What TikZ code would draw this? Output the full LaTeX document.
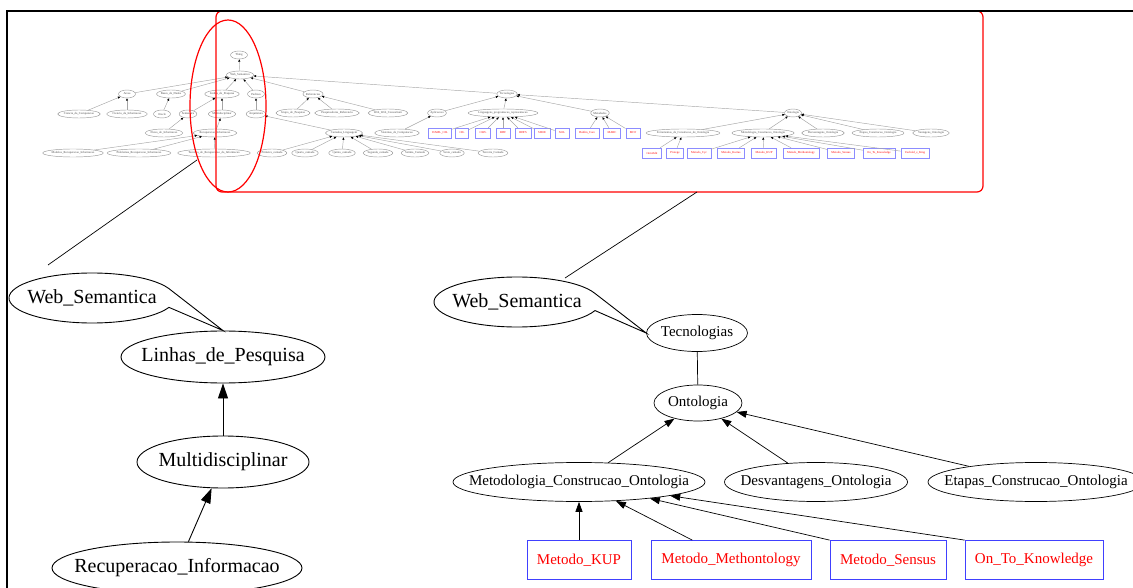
\documentclass[tikz,border=0pt]{standalone}
\usepackage{fontspec}
\setmainfont{Liberation Serif}
\usepackage{xcolor}
\usetikzlibrary{shapes,arrows.meta,positioning,calc}

\tikzset{
    mini/.style={ellipse, draw=black!40, text=black!70, font=\fontsize{3}{3.6}\selectfont, inner sep=0pt, minimum width=17pt, minimum height=8pt, line width=0.45pt},
    minibox/.style={rectangle, draw=blue!45, text=red, font=\fontsize{3}{3.6}\selectfont, inner xsep=4pt, inner ysep=0pt, minimum height=10pt, line width=0.45pt},
    minilink/.style={draw=black!35, line width=0.45pt, -{Triangle[length=2.5pt,width=2pt,color=black]}},
    big/.style={ellipse, draw, line width=0.9pt, inner sep=0pt, font=\fontsize{20}{24}\selectfont},
    mid/.style={ellipse, draw, line width=0.7pt, inner sep=0pt, font=\fontsize{15}{18}\selectfont},
    metbox/.style={rectangle, draw=blue!75, text=red, line width=0.8pt, inner sep=0pt, minimum height=39pt, font=\fontsize{15}{18}\selectfont},
    bigarrow/.style={line width=0.9pt, -{Triangle[length=15pt,width=10pt]}},
    midarrow/.style={line width=0.7pt, -{Triangle[length=10pt,width=7pt]}},
}
\newcommand{\zb}[1]{\makebox[0pt]{#1}}

\begin{document}
\begin{tikzpicture}[x=1pt, y=-1pt]
    \useasboundingbox (0,0) rectangle (1133,588);

    % Miniature of the whole ontology
    \node[mini] (th) at (239,55) {Thing};
    \node[mini] (wsm) at (240,75) {Web\_Semantica};
    \node[mini] (ar) at (127,94) {Areas};
    \node[mini] (bd) at (171,94) {Bases\_de\_Dados};
    \node[mini] (lpm) at (222,94) {Linhas\_de\_Pesquisa};
    \node[mini] (pd) at (256,94) {Padroes};
    \node[mini] (rf) at (313,94) {Referencias};
    \node[mini] (tc) at (507,94) {Tecnologias};

    \node[mini] (cc) at (79,114) {Ciencia\_da\_Computacao};
    \node[mini] (ci) at (127,114) {Ciencia\_da\_Informacao};
    \node[mini] (orc) at (162,114) {Oracle};
    \node[mini] (sm) at (188,114) {Semantica};
    \node[mini] (mdm) at (222,114) {Multidisciplinar};
    \node[mini] (aq) at (256,114) {Arquitetura};
    \node[mini] (gp) at (293,113) {Grupo\_de\_Pesquisa};
    \node[mini] (pq) at (337,113) {Pesquisadores\_Referencia};
    \node[mini] (w3) at (388,113) {Web\_Web\_Consortium};
    \node[mini] (ag) at (437,113) {Aplicacoes};
    \node[mini] (lg) at (503,113) {Linguagens\_programacao\_representacao};
    \node[mini] (mt) at (600,113) {Metadados};
    \node[mini] (om) at (793,113) {Ontologia};

    \node[mini] (fl) at (164,133) {Fluxo\_de\_Informacao};
    \node[mini] (rim) at (215,133) {Recuperacao\_Informacao};
    \node[mini] (cm) at (344,133) {Camadas\_Linguagem};
    \node[mini] (sc) at (397,133) {Sistemas\_de\_Computacao};
    \node[minibox] (b1) at (440,133) {DAML\_OIL};
    \node[minibox] (b2) at (462,133) {OIL};
    \node[minibox] (b3) at (483,133) {OWL};
    \node[minibox] (b4) at (503,133) {RDF};
    \node[minibox] (b5) at (523,133) {RDFS};
    \node[minibox] (b6) at (542,133) {SHOE};
    \node[minibox] (b7) at (562,133) {XOL};
    \node[minibox] (d1) at (587,133) {Dublin\_Core};
    \node[minibox] (d2) at (612,133) {MARC};
    \node[minibox] (d3) at (633,133) {MCF};
    \node[mini] (fe) at (683,133) {Ferramentas\_de\_Construcao\_de\_Ontologia};
    \node[mini] (mco) at (763,133) {Metodologia\_Construcao\_Ontologia};
    \node[mini] (dvo) at (823,133) {Desvantagens\_Ontologia};
    \node[mini] (eco) at (878,133) {Etapas\_Construcao\_Ontologia};
    \node[mini] (vo) at (931,133) {Vantagens\_Ontologia};

    \node[mini] (mr) at (73,153) {Modelos\_Recuperacao\_Informacao};
    \node[mini] (pr) at (139,153) {Problemas\_Recuperacao\_Informacao};
    \node[mini] (tr) at (214,153) {Tecnicas\_de\_Recuperacao\_da\_Informacao};
    \node[mini] (c1) at (272,153) {Primeira\_camada};
    \node[mini] (c2) at (305,153) {Quarta\_camada};
    \node[mini] (c3) at (342,153) {Quinta\_camada};
    \node[mini] (c4) at (378,153) {Segunda\_camada};
    \node[mini] (c5) at (415,153) {Setima\_Camada};
    \node[mini] (c6) at (452,153) {Sexta\_camada};
    \node[mini] (c7) at (493,153) {Terceira\_Camada};
    \node[minibox] (f1) at (652,153) {OntoEdit};
    \node[minibox] (f2) at (675,153) {Protege};
    \node[minibox] (m1) at (699,153) {Metodo\_Cyc};
    \node[minibox] (m2) at (731,153) {Metodo\_Kactus};
    \node[minibox] (m3) at (764,153) {Metodo\_KUP};
    \node[minibox] (m4) at (801,153) {Metodo\_Methontology};
    \node[minibox] (m5) at (841,153) {Metodo\_Sensus};
    \node[minibox] (m6) at (879,153) {On\_To\_Knowledge};
    \node[minibox] (m7) at (915,153) {Uschold\_e\_King};

    \path[minilink] (wsm) edge (th)
        (ar) edge (wsm) (bd) edge (wsm) (lpm) edge (wsm) (pd) edge (wsm) (rf) edge (wsm) (tc) edge (wsm)
        (cc) edge (ar) (ci) edge (ar) (orc) edge (bd) (sm) edge (lpm) (mdm) edge (lpm) (aq) edge (pd)
        (gp) edge (rf) (pq) edge (rf) (w3) edge (rf)
        (ag) edge (tc) (lg) edge (tc) (mt) edge (tc) (om) edge (tc)
        (fl) edge (sm) (rim) edge (mdm) (cm) edge (aq) (sc) edge (ag)
        (b1) edge (lg) (b2) edge (lg) (b3) edge (lg) (b4) edge (lg) (b5) edge (lg) (b6) edge (lg) (b7) edge (lg)
        (d1) edge (mt) (d2) edge (mt) (d3) edge (mt)
        (fe) edge (om) (mco) edge (om) (dvo) edge (om) (eco) edge (om) (vo) edge (om)
        (mr) edge (rim) (pr) edge (rim) (tr) edge (rim)
        (c1) edge (cm) (c2) edge (cm) (c3) edge (cm) (c4) edge (cm) (c5) edge (cm) (c6) edge (cm) (c7) edge (cm)
        (f1) edge (fe) (f2) edge (fe)
        (m1) edge (mco) (m2) edge (mco) (m3) edge (mco) (m4) edge (mco) (m5) edge (mco) (m6) edge (mco) (m7) edge (mco);

    % Marks on the miniature
    \draw[red, line width=1.2pt, rounded corners=6pt] (216,11) rectangle (983,192);
    \draw[red, line width=1.2pt] (228,106) ellipse (38pt and 86pt);

    % Left zoom
    \node[big, minimum width=204pt, minimum height=52pt] (lp) at (223,357) {\zb{Linhas\_de\_Pesquisa}};
    \node[big, minimum width=172pt, minimum height=52pt] (mu) at (223,462) {\zb{Multidisciplinar}};
    \node[big, minimum width=250pt, minimum height=52pt] (ri) at (177,568) {\zb{Recuperacao\_Informacao}};
    \node[big, draw=none, minimum width=166pt, minimum height=50pt] (ws1) at (92,298) {\zb{Web\_Semantica}};
    \draw[line width=0.9pt] ([shift={(22:83pt and 25pt)}]ws1.center)
        arc[start angle=22, end angle=338, x radius=83pt, y radius=25pt] -- (lp.north) -- cycle;
    \draw[bigarrow] (mu) -- (lp);
    \draw[bigarrow] (ri) -- (mu);
    \coordinate (zl1) at (197,160);
    \coordinate (zl2) at (48,265);
    \draw[line width=0.7pt] (zl1) -- (zl2);

    % Right zoom
    \node[mid, minimum width=101pt, minimum height=37pt] (te) at (697,333) {\zb{Tecnologias}};
    \node[mid, minimum width=88pt, minimum height=36pt] (on) at (698,403) {\zb{Ontologia}};
    \node[mid, minimum width=252pt, minimum height=39pt] (mc) at (579,482) {\zb{Metodologia\_Construcao\_Ontologia}};
    \node[mid, minimum width=183pt, minimum height=39pt] (dv) at (816,482) {\zb{Desvantagens\_Ontologia}};
    \node[mid, minimum width=216pt, minimum height=39pt] (ec) at (1036,482) {\zb{Etapas\_Construcao\_Ontologia}};
    \node[big, draw=none, minimum width=166pt, minimum height=50pt] (ws2) at (517,302) {\zb{Web\_Semantica}};
    \draw[line width=0.9pt] ([shift={(20:83pt and 25pt)}]ws2.center)
        arc[start angle=20, end angle=340, x radius=83pt, y radius=25pt] -- (te.west) -- cycle;
    \node[metbox, minimum width=104pt] (kup) at (579,560) {\zb{Metodo\_KUP}};
    \node[metbox, minimum width=160pt] (mth) at (731,560) {\zb{Metodo\_Methontology}};
    \node[metbox, minimum width=116pt] (sen) at (888,560) {\zb{Metodo\_Sensus}};
    \node[metbox, minimum width=138pt] (otk) at (1034,560) {\zb{On\_To\_Knowledge}};
    \draw[line width=0.7pt] (te) -- (on);
    \draw[midarrow] (mc) -- (on);
    \draw[midarrow] (dv) -- (on);
    \draw[midarrow] (ec) -- (on);
    \draw[midarrow] (kup) -- (mc);
    \draw[midarrow] (mth) -- (mc);
    \draw[midarrow] (sen.north west) -- (mc);
    \draw[midarrow] (otk.north west) -- (mc);
    \coordinate (zr1) at (697,192);
    \coordinate (zr2) at (565,278);
    \draw[line width=0.7pt] (zr1) -- (zr2);

    % Frame
    \draw[line width=2.4pt] (1133,11) -- (7,11) -- (7,588);
\end{tikzpicture}
\end{document}
